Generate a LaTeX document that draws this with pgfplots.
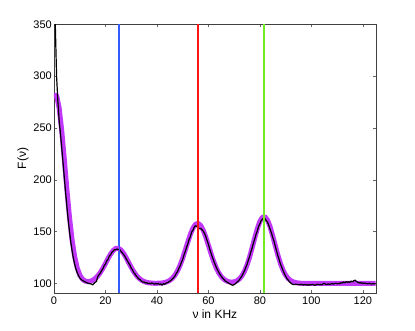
\documentclass[border=0pt]{standalone}
\usepackage{fontspec}
\setmainfont{Liberation Sans}
\usepackage{pgfplots}
\pgfplotsset{compat=1.18}
\definecolor{fitmag}{rgb}{0.76,0.22,0.98}
\definecolor{peakblue}{rgb}{0.20,0.36,1.00}
\definecolor{peakred}{rgb}{1.00,0.08,0.08}
\definecolor{peakgreen}{rgb}{0.45,0.92,0.15}
\begin{document}
\begin{tikzpicture}
\begin{axis}[
    scale only axis,
    width=321.7pt, height=268.4pt,
    xmin=0, xmax=125, ymin=91, ymax=350,
    xtick={0,20,...,120},
    ytick={100,150,...,350},
    tick align=inside,
    major tick length=3pt,
    axis line style={black!75},
    every tick/.style={black!60},
    /pgf/number format/assume math mode=true,
    ticklabel style={font=\fontsize{11}{13}\selectfont},
    yticklabel style={inner sep=2pt},
    xticklabel style={inner sep=4pt},
    label style={font=\fontsize{12}{14}\selectfont},
    xlabel={ν in KHz},
    ylabel={F(ν)},
    x label style={at={(axis description cs:0.5,-0.081)},anchor=center},
    y label style={at={(axis description cs:-0.0964,0.5)},anchor=center},
]
% peak markers (ycomb bars from the bottom)
\addplot[draw=peakblue, line width=1.8pt, ycomb, mark=none] coordinates {(25.4,350)};
\addplot[draw=peakgreen, line width=1.8pt, ycomb, mark=none] coordinates {(81.4,350)};
% fitted curve
\addplot[color=fitmag, line width=5pt, line join=round, line cap=round] coordinates {
 (0,281.4) (1,281.4) (2,269.3) (3,247.4) (4,219.7) (5,190.8) (6,164.2) (7,142.4)
 (8,126.1) (9,115.0) (10,108.1) (11,104.2) (12,102.4) (13,101.7) (14,101.9)
 (15,102.9) (16,104.6) (17,107.1) (18,110.5) (19,114.6) (20,119.2) (21,124.0)
 (22,128.3) (23,131.7) (24,133.7) (25,133.9) (26,132.3) (27,129.1) (28,124.9)
 (29,120.2) (30,115.5) (31,111.2) (32,107.7) (33,105.1) (34,103.1) (35,101.8)
 (36,101.0) (37,100.5) (38,100.3) (39,100.1) (40,100.1) (41,100.2) (42,100.4)
 (43,100.8) (44,101.6) (45,102.9) (46,104.9) (47,107.9) (48,112.1) (49,117.6)
 (50,124.3) (51,132.0) (52,139.9) (53,147.4) (54,153.3) (55,157.1) (56,157.9)
 (57,155.9) (58,151.2) (59,144.5) (60,136.8) (61,128.9) (62,121.5) (63,115.2)
 (64,110.2) (65,106.5) (66,104.0) (67,102.4) (68,101.5) (69,101.2) (70,101.5)
 (71,102.4) (72,104.2) (73,107.2) (74,111.6) (75,117.7) (76,125.4) (77,134.4)
 (78,143.9) (79,152.8) (80,159.8) (81,163.8) (82,164.2) (83,160.9) (84,154.4)
 (85,145.7) (86,136.3) (87,127.1) (88,119.1) (89,112.7) (90,107.9) (91,104.7)
 (92,102.6) (93,101.4) (94,100.7) (95,100.3) (96,100.1) (100,100) (125,100)
};
% measured data
\addplot[color=black, line width=1.2pt, line join=round] coordinates {
 (0,395) (0.5,350) (1,300) (1.5,276) (2,257.1) (2.5,244.8) (3,231.2) (3.5,216.8)
 (4,202.3) (4.5,188.0) (5,174.4) (5.5,161.8) (6,150.5) (6.5,140.5) (7,132.0)
 (7.5,124.8) (8,118.9) (8.5,114.1) (9,110.4) (9.5,107.5) (10,105.3) (10.5,103.9)
 (11,102.9) (11.5,102.2) (12,101.5) (12.5,101.0) (13,100.3) (13.5,100.0)
 (14,99.6) (14.5,99.4) (15,98.6) (15.5,99.8) (16,100.9) (16.5,102.0) (17,106.5)
 (17.5,108.4) (18,109.8) (18.5,112.5) (19,114.0) (19.5,117.2) (20,118.6)
 (20.5,121.8) (21,123.2) (21.5,126.5) (22,127.6) (22.5,130.0) (23,131.2)
 (23.5,132.6) (24,132.4) (24.5,133.2) (25,132.5) (25.5,132.8) (26,131.0)
 (26.5,129.6) (27,127.9) (27.5,126.4) (28,123.8) (28.5,122.0) (29,119.5)
 (29.5,117.8) (30,114.6) (30.5,113.1) (31,110.4) (31.5,109.0) (32,107.1)
 (32.5,105.6) (33,104.2) (33.5,103.5) (34,102.1) (34.5,101.2) (35,101.4)
 (35.5,100.3) (36,100.8) (36.5,99.7) (37,100.2) (37.5,99.5) (38,100.4)
 (38.5,99.8) (39,99.2) (39.5,100.1) (40,99.4) (40.5,99.9) (41,98.9) (41.5,99.6)
 (42,98.3) (42.5,99.7) (43,99.1) (43.5,100.2) (44,100.6) (44.5,101.3)
 (45,102.1) (45.5,103.0) (46,104.3) (46.5,105.6) (47,107.2) (47.5,109.6)
 (48,111.4) (48.5,114.5) (49,116.8) (49.5,120.3) (50,123.1) (50.5,127.4)
 (51,130.6) (51.5,134.9) (52,138.1) (52.5,142.6) (53,145.2) (53.5,149.6)
 (54,151.4) (54.5,154.3) (55,155.6) (55.5,155.0) (56,153.4) (56.5,152.8)
 (57,153.0) (57.5,151.8) (58,150.4) (58.5,148.2) (59,145.0) (59.5,141.3)
 (60,137.6) (60.5,133.2) (61,129.4) (61.5,125.6) (62,122.3) (62.5,118.8)
 (63,115.9) (63.5,113.1) (64,110.8) (64.5,108.6) (65,106.8) (65.5,105.2)
 (66,103.9) (66.5,102.4) (67,101.6) (67.5,100.8) (68,100.1) (68.5,99.3)
 (69,98.6) (69.5,98.2) (70,98.9) (70.5,99.6) (71,101.0) (71.5,102.0)
 (72,103.4) (72.5,105.3) (73,107.0) (73.5,109.6) (74,112.0) (74.5,115.4)
 (75,118.3) (75.5,122.4) (76,125.9) (76.5,130.5) (77,134.2) (77.5,139.1)
 (78,142.8) (78.5,147.4) (79,150.6) (79.5,155.2) (80,157.4) (80.5,160.6)
 (81,162.0) (81.5,162.8) (82,162.5) (82.5,160.4) (83,158.9) (83.5,155.6)
 (84,152.1) (84.5,148.6) (85,144.3) (85.5,140.5) (86,135.8) (86.5,131.2)
 (87,126.6) (87.5,122.8) (88,118.7) (88.5,115.6) (89,112.3) (89.5,109.4)
 (90,107.0) (90.5,104.6) (91,103.2) (91.5,101.5) (92,100.4) (92.5,99.4)
 (93,99.0) (93.5,98.8) (94,99.2) (94.5,98.9) (95,99.0) (95.5,98.6) (96,99.1)
 (96.5,98.7) (97,98.5) (97.5,99.0) (98,98.4) (98.5,98.8) (99,98.2) (99.5,98.9)
 (100,98.6) (100.5,99.1) (101,98.5) (101.5,98.1) (102,98.8) (102.5,99.3)
 (103,98.7) (103.5,99.0) (104,98.5) (104.5,99.5) (105,100.1) (105.5,99.2)
 (106,98.9) (106.5,99.6) (107,99.0) (107.5,99.4) (108,99.9) (108.5,99.3)
 (109,99.7) (109.5,100.2) (110,99.6) (110.5,100.0) (111,99.7) (111.5,100.6)
 (112,100.2) (112.5,101.4) (113,100.5) (113.5,101.8) (114,100.9) (114.5,101.6)
 (115,101.0) (115.5,102.3) (116,101.4) (116.5,102.6) (117,103.1) (117.5,101.8)
 (118,101.2) (118.5,100.4) (119,100.8) (119.5,100.1) (120,100.5) (120.5,99.9)
 (121,100.3) (121.5,99.8) (122,99.6) (122.5,100.1) (123,99.6) (123.5,99.4)
 (124,99.8) (124.5,99.5) (125,99.6)
};
\addplot[draw=peakblue, line width=1.8pt] coordinates {(25.45,91) (25.45,350)};
\addplot[draw=peakred, line width=1.8pt] coordinates {(56.0,91) (56.0,350)};
\addplot[draw=peakgreen, line width=1.8pt] coordinates {(81.45,91) (81.45,350)};
\end{axis}
\pgfresetboundingbox
\path[use as bounding box] (-54pt,-37.3pt) rectangle (361pt,292.7pt);
\end{tikzpicture}
\end{document}
